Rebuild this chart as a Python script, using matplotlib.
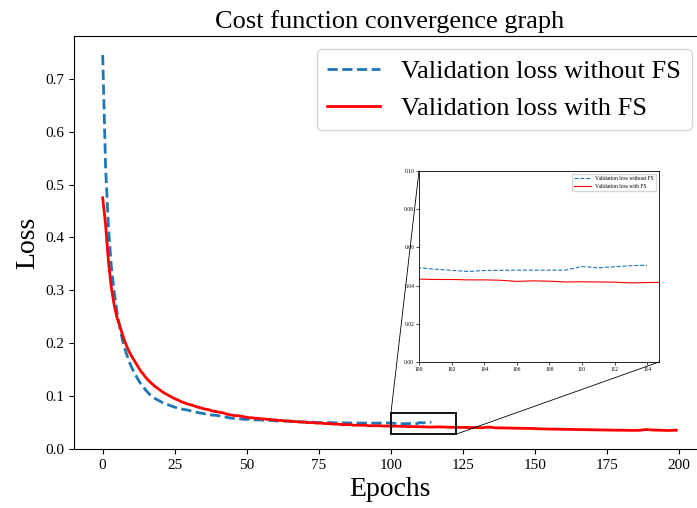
# -*- coding: utf-8 -*-
"""
Cost function convergence graph: validation loss with / without FS,
plus a zoomed inset around epochs 100-115.
"""
import numpy as np
import matplotlib
matplotlib.use('Agg')
import matplotlib.pyplot as plt
from matplotlib.patches import Rectangle, ConnectionPatch

plt.rcParams['font.family'] = ['Liberation Serif', 'DejaVu Serif']

# validation loss without feature selection (epochs 0-114)
loss_no_fs = [
    0.745, 0.535, 0.420, 0.345, 0.297, 0.258, 0.228, 0.203, 0.184, 0.168,
    0.155, 0.144, 0.134, 0.125, 0.118, 0.111, 0.105, 0.100, 0.096, 0.093,
    0.090, 0.087, 0.085, 0.083, 0.081, 0.079, 0.078, 0.076, 0.075, 0.074,
    0.073, 0.071, 0.070, 0.069, 0.068, 0.067, 0.066, 0.065, 0.064, 0.064,
    0.063, 0.062, 0.061, 0.060, 0.059, 0.058, 0.058, 0.057, 0.057, 0.056,
    0.056, 0.056, 0.055, 0.055, 0.055, 0.055, 0.054, 0.054, 0.054, 0.054,
    0.053, 0.053, 0.053, 0.053, 0.053, 0.052, 0.052, 0.052, 0.052, 0.051,
    0.051, 0.051, 0.051, 0.051, 0.050, 0.050, 0.050, 0.050, 0.050, 0.0498,
    0.0497, 0.0496, 0.0495, 0.0495, 0.0494, 0.0493, 0.0492, 0.0492, 0.0491,
    0.0490, 0.0490, 0.0490, 0.0489, 0.0489, 0.0488, 0.0488, 0.0490, 0.0491,
    0.0492, 0.0493,
    0.0493, 0.0486, 0.0480, 0.0474, 0.0479, 0.0480, 0.0481, 0.0481, 0.0481,
    0.0481, 0.0500, 0.0493, 0.0499, 0.0504, 0.0507,
]

# validation loss with feature selection (epochs 0-199)
loss_fs = [
    0.475, 0.425, 0.355, 0.305, 0.272, 0.248, 0.232, 0.214, 0.199, 0.186,
    0.176, 0.167, 0.158, 0.149, 0.142, 0.135, 0.129, 0.124, 0.119, 0.115,
    0.111, 0.107, 0.104, 0.101, 0.098, 0.095, 0.093, 0.090, 0.088, 0.086,
    0.084, 0.083, 0.081, 0.079, 0.078, 0.076, 0.075, 0.074, 0.072, 0.071,
    0.070, 0.069, 0.068, 0.066, 0.065, 0.064, 0.063, 0.063, 0.062, 0.061,
    0.060, 0.059, 0.059, 0.058, 0.058, 0.057, 0.057, 0.056, 0.056, 0.055,
    0.055, 0.054, 0.054, 0.053, 0.053, 0.053, 0.052, 0.052, 0.051, 0.051,
    0.051, 0.050, 0.050, 0.050, 0.049, 0.049, 0.049, 0.048, 0.048, 0.048,
    0.047, 0.047, 0.047, 0.046, 0.046, 0.046, 0.046, 0.045, 0.045, 0.045,
    0.045, 0.045, 0.044, 0.044, 0.044, 0.044, 0.044, 0.0435, 0.0435, 0.0435,
    0.0434, 0.0432, 0.0432, 0.0430, 0.0430, 0.0428, 0.0422, 0.0425, 0.0423,
    0.0419, 0.0420, 0.0419, 0.0418, 0.0414, 0.0416, 0.0417, 0.0418, 0.0418,
    0.0415, 0.0413, 0.0412, 0.0410, 0.0409, 0.0408, 0.0410, 0.0407, 0.0405,
    0.0404, 0.0403, 0.0402, 0.0401, 0.0400, 0.0402, 0.0410, 0.0415, 0.0408,
    0.0402, 0.0400, 0.0399, 0.0398, 0.0397, 0.0396, 0.0395, 0.0394, 0.0393,
    0.0392, 0.0391, 0.0390, 0.0389, 0.0388, 0.0387, 0.0382, 0.0380, 0.0379,
    0.0378, 0.0377, 0.0376, 0.0376, 0.0375, 0.0374, 0.0373, 0.0372, 0.0371,
    0.0370, 0.0369, 0.0368, 0.0367, 0.0366, 0.0365, 0.0364, 0.0363, 0.0362,
    0.0361, 0.0360, 0.0359, 0.0358, 0.0357, 0.0357, 0.0356, 0.0355, 0.0356,
    0.0354, 0.0353, 0.0352, 0.0352, 0.0351, 0.0353, 0.0358, 0.0366, 0.0368,
    0.0362, 0.0359, 0.0357, 0.0356, 0.0355, 0.0352, 0.0350, 0.0351, 0.0353,
    0.0355,
]

labels = ['Validation loss without FS', 'Validation loss with FS']
ep_no_fs = np.arange(len(loss_no_fs))
ep_fs = np.arange(len(loss_fs))

# zoom box drawn on the main axes (x0, y0, width, height in data units)
zoom_box = (100, 0.028, 22.6, 0.040)

blu, red = '#1f77b4', 'red'

fig = plt.figure(figsize=(6.97, 5.08), dpi=100)
ax = fig.add_axes([74 / 697, 59 / 508, 631 / 697, 413 / 508])

ax.plot(ep_no_fs, loss_no_fs, '--', color=blu, lw=2, label=labels[0])
ax.plot(ep_fs, loss_fs, '-', color=red, lw=2, label=labels[1])
ax.set_xlim(-9.95, 208.95)
ax.set_ylim(0, 0.781)
ax.set_xticks([0, 25, 50, 75, 100, 125, 150, 175, 200])
ax.set_yticks(np.arange(0, 0.75, 0.1))
ax.tick_params(labelsize=11)
ax.set_xlabel('Epochs', fontsize=20)
ax.set_ylabel('Loss', fontsize=20)
ax.set_title('Cost function convergence graph', fontsize=19)
ax.legend(loc='upper right', fontsize=19)

# zoom rectangle on the main axes
x0, y0, w, h = zoom_box
ax.add_patch(Rectangle((x0, y0), w, h, fill=False, edgecolor='black',
                       lw=1.3, zorder=5))

# inset
axin = fig.add_axes([419 / 697, 146 / 508, 240 / 697, 191 / 508])
axin.plot(ep_no_fs, loss_no_fs, '--', color=blu, lw=0.8, label=labels[0])
axin.plot(ep_fs, loss_fs, '-', color=red, lw=0.8, label=labels[1])
axin.set_xlim(100, 114.73)
axin.set_ylim(0, 0.10)
axin.set_xticks(np.arange(100, 115, 2))
axin.set_yticks(np.arange(0, 0.101, 0.02))
axin.yaxis.set_major_formatter(plt.FormatStrFormatter('%.2f'))
axin.tick_params(labelsize=4, length=2, width=0.5, pad=1.5)
for sp in axin.spines.values():
    sp.set_linewidth(0.6)
axin.legend(loc='upper right', fontsize=4, handlelength=3)

# connector lines from the zoom box to the inset corners
for xy_main, xy_in in [((x0, y0 + h), (0, 1)), ((x0 + w, y0), (1, 0))]:
    con = ConnectionPatch(xyA=xy_main, coordsA=ax.transData,
                          xyB=xy_in, coordsB=axin.transAxes,
                          color='black', lw=0.6)
    fig.add_artist(con)

fig.savefig('out.png', dpi=100)
